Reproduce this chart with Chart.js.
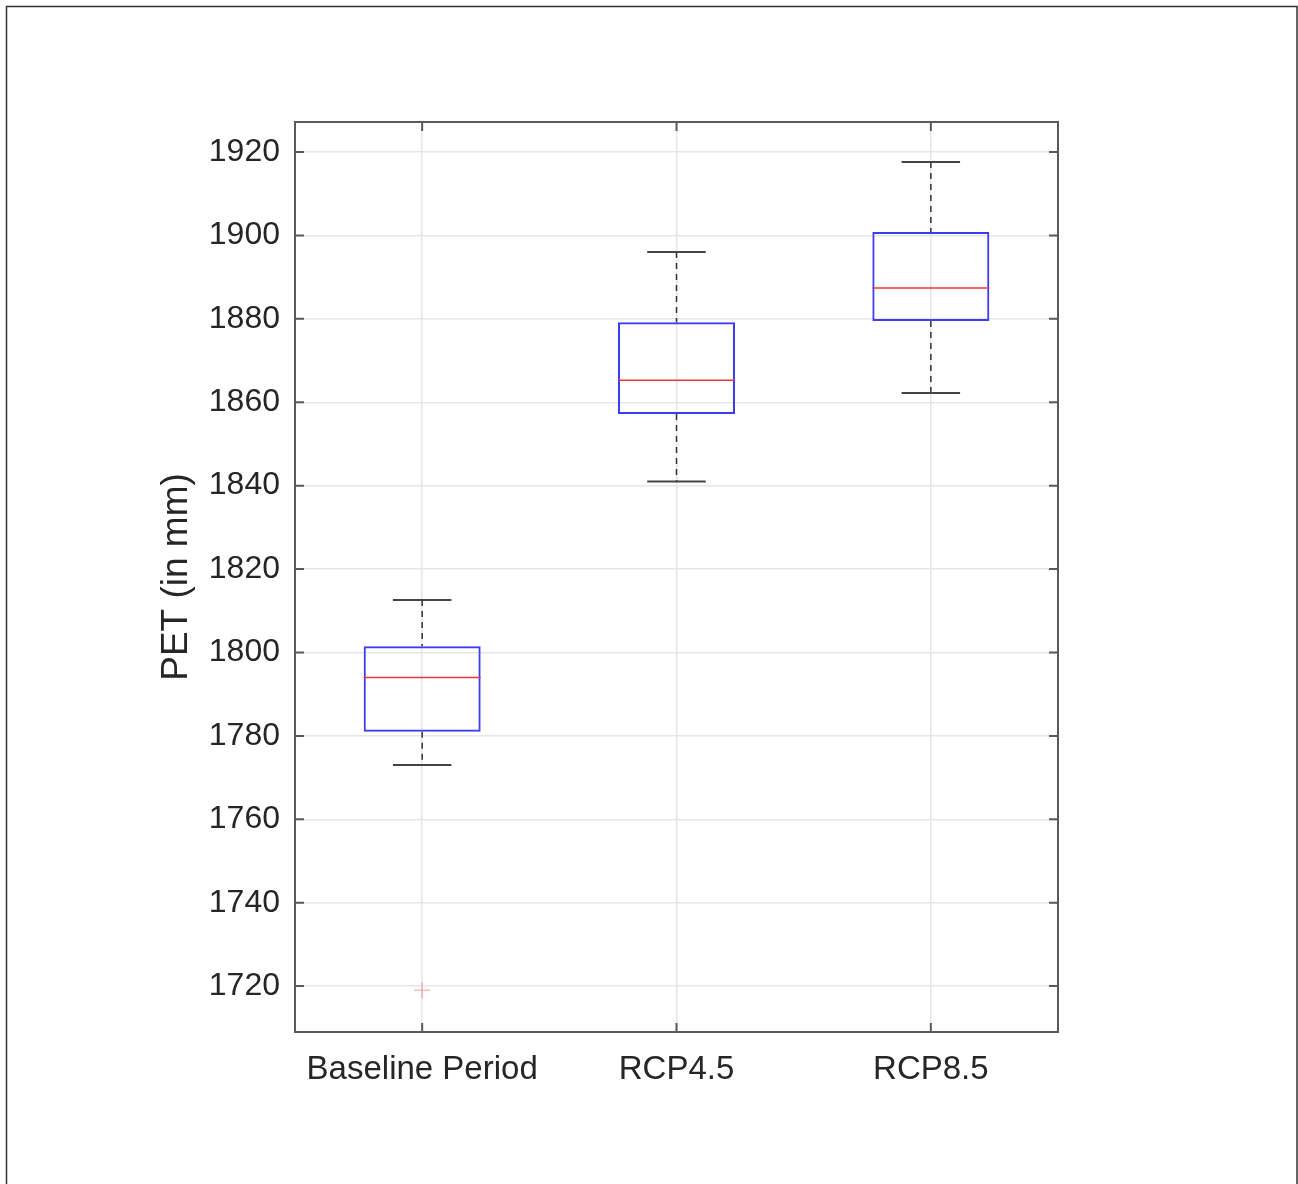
<!DOCTYPE html>
<html>
<head>
<meta charset="utf-8">
<script src="https://cdn.jsdelivr.net/npm/chart.js@4.4.0/dist/chart.umd.min.js"></script>
<style>body{margin:0;background:#fff}</style>
</head>
<body>
<canvas id="petChart" width="1298" height="1184"></canvas>
<script>
// PET boxplot values
const categories = ['Baseline Period', 'RCP4.5', 'RCP8.5'];
const whiskerLow = [1773, 1841, 1862.2];
const q1 = [1781, 1857.2, 1879.5];
const median = [1794, 1865.3, 1887.4];
const q3 = [1801.5, 1879.2, 1900.8];
const whiskerHigh = [1812.6, 1896, 1917.6];
const outliers = [1719, null, null];
const yTicks = [1720, 1740, 1760, 1780, 1800, 1820, 1840, 1860, 1880, 1900, 1920];

const textColor = '#262626';
const gridColor = '#e6e6e6';
const frameColor = '#5a5a5a';

// whiskers, caps, medians (MATLAB-like boxplot)
const boxPlotExtras = {
    id: 'boxPlotExtras',
    afterDatasetsDraw(chart) {
        const ctx = chart.ctx;
        const x = chart.scales.x, y = chart.scales.y;
        const bars = chart.getDatasetMeta(0).data;
        ctx.save();
        categories.forEach((c, i) => {
            const cx = x.getPixelForValue(i);
            const half = bars[i].width / 2;
            const cap = half / 2;
            // dashed whiskers
            ctx.strokeStyle = '#333';
            ctx.lineWidth = 1.5;
            ctx.setLineDash([6, 5]);
            ctx.beginPath();
            ctx.moveTo(cx, y.getPixelForValue(whiskerHigh[i]));
            ctx.lineTo(cx, y.getPixelForValue(q3[i]));
            ctx.moveTo(cx, y.getPixelForValue(q1[i]));
            ctx.lineTo(cx, y.getPixelForValue(whiskerLow[i]));
            ctx.stroke();
            // caps
            ctx.setLineDash([]);
            ctx.lineWidth = 2;
            ctx.strokeStyle = '#444';
            ctx.beginPath();
            ctx.moveTo(cx - cap, y.getPixelForValue(whiskerHigh[i]));
            ctx.lineTo(cx + cap, y.getPixelForValue(whiskerHigh[i]));
            ctx.moveTo(cx - cap, y.getPixelForValue(whiskerLow[i]));
            ctx.lineTo(cx + cap, y.getPixelForValue(whiskerLow[i]));
            ctx.stroke();
            // median
            ctx.strokeStyle = '#e8383d';
            ctx.lineWidth = 1.5;
            ctx.beginPath();
            ctx.moveTo(cx - half, y.getPixelForValue(median[i]));
            ctx.lineTo(cx + half, y.getPixelForValue(median[i]));
            ctx.stroke();
        });
        ctx.restore();
    },
    afterDraw(chart) {
        const ctx = chart.ctx;
        const a = chart.chartArea;
        const x = chart.scales.x, y = chart.scales.y;
        const tl = 9;
        ctx.save();
        ctx.strokeStyle = frameColor;
        ctx.lineWidth = 2;
        ctx.strokeRect(a.left, a.top, a.right - a.left, a.bottom - a.top);
        ctx.beginPath();
        yTicks.forEach(v => {
            const py = y.getPixelForValue(v);
            ctx.moveTo(a.left, py); ctx.lineTo(a.left + tl, py);
            ctx.moveTo(a.right, py); ctx.lineTo(a.right - tl, py);
        });
        categories.forEach((c, i) => {
            const px = x.getPixelForValue(i);
            ctx.moveTo(px, a.bottom); ctx.lineTo(px, a.bottom - tl);
            ctx.moveTo(px, a.top); ctx.lineTo(px, a.top + tl);
        });
        ctx.stroke();
        // figure border
        ctx.strokeStyle = '#333';
        ctx.lineWidth = 1.5;
        ctx.strokeRect(6.5, 6.5, 1290.5, 1200);
        ctx.restore();
    }
};

const ctx = document.getElementById('petChart').getContext('2d');
new Chart(ctx, {
    type: 'bar',
    data: {
        labels: categories,
        datasets: [{
            label: 'IQR',
            data: categories.map((c, i) => [q1[i], q3[i]]),
            backgroundColor: 'rgba(0,0,0,0)',
            borderColor: '#3c3cf0',
            borderWidth: 2,
            borderSkipped: false,
            barPercentage: 0.46,
            categoryPercentage: 1
        }, {
            type: 'line',
            label: 'Outliers',
            data: outliers,
            showLine: false,
            pointStyle: 'cross',
            pointRadius: 8,
            pointBorderWidth: 1.5,
            pointBorderColor: 'rgba(240,120,130,0.5)',
            pointBackgroundColor: 'rgba(0,0,0,0)'
        }]
    },
    options: {
        responsive: false,
        animation: false,
        layout: { padding: { top: 122, right: 240, left: 0, bottom: 0 } },
        plugins: { legend: { display: false }, tooltip: { enabled: false } },
        scales: {
            x: {
                offset: true,
                grid: { offset: false, color: gridColor, lineWidth: 1.5, drawTicks: false },
                border: { display: false },
                ticks: { color: textColor, padding: 18, font: { family: 'Liberation Sans, Arial', size: 33 } },
                afterFit(scale) { scale.height = 152; }
            },
            y: {
                min: 1709,
                max: 1927.2,
                afterBuildTicks(scale) { scale.ticks = yTicks.map(v => ({ value: v })); },
                grid: { color: gridColor, lineWidth: 1.5, drawTicks: false },
                border: { display: false },
                ticks: {
                    color: textColor,
                    padding: 15,
                    font: { family: 'Liberation Sans, Arial', size: 32 },
                    callback: v => String(v)
                },
                title: {
                    display: true,
                    text: 'PET (in mm)',
                    color: textColor,
                    padding: { top: 155 },
                    font: { family: 'Liberation Sans, Arial', size: 37 }
                },
                afterFit(scale) { scale.width = 295; }
            }
        }
    },
    plugins: [boxPlotExtras]
});
</script>
</body>
</html>
